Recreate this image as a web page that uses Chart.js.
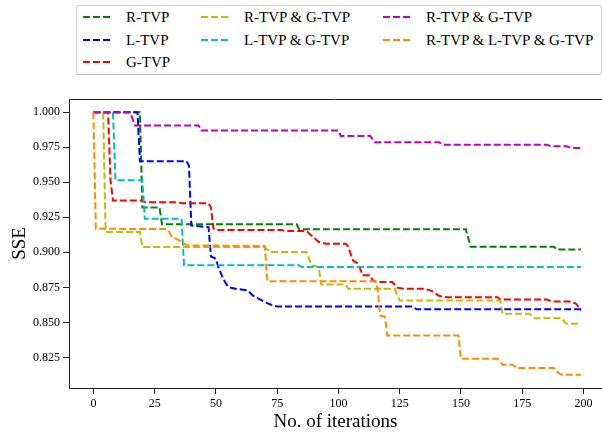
<!DOCTYPE html>
<html>
<head>
<meta charset="utf-8">
<script src="https://cdn.jsdelivr.net/npm/chart.js@4/dist/chart.umd.min.js"></script>
<style>
  html, body { margin: 0; padding: 0; background: #fff; }
  #wrap { position: relative; width: 602px; height: 433px; }
  #chart { position: absolute; left: 0; top: 0; }
  #legend {
    position: absolute; left: 76px; top: 5px; width: 524px; height: 68px;
    border: 1px solid #d0d0d0; border-bottom-color: #b8b8b8; border-radius: 3px; background: #fff;
    font-family: "Liberation Serif", "Times New Roman", Times, serif; font-size: 15px; color: #000;
  }
  .item { position: absolute; height: 18px; line-height: 18px; white-space: nowrap; }
  .item svg { position: absolute; left: 0; top: 7px; }
  .item span { position: absolute; left: 43px; top: 0; }
</style>
</head>
<body>
<div id="wrap">
  <canvas id="chart" width="602" height="433"></canvas>
  <div id="legend"></div>
</div>
<script>
// tick labels
var xTicks = [0, 25, 50, 75, 100, 125, 150, 175, 200];
var yTicks = ["0.825", "0.850", "0.875", "0.900", "0.925", "0.950", "0.975", "1.000"];

// R-TVP
var rTvpIter = [0, 19, 20, 27, 28, 83, 84, 152, 154, 188, 189, 199];
var rTvpSse = [1.0, 1.0, 0.932, 0.932, 0.92, 0.92, 0.9165, 0.9165, 0.904, 0.904, 0.902, 0.902];

// L-TVP
var lTvpIter = [0, 18, 19, 38, 39, 40, 47, 48, 50, 51, 53, 55, 58, 63, 65, 68, 72, 75, 130, 132, 199];
var lTvpSse = [1.0, 1.0, 0.965, 0.965, 0.962, 0.919, 0.918, 0.897, 0.8955, 0.8895, 0.881, 0.8752, 0.874, 0.8729, 0.8693, 0.8664, 0.8629, 0.8614, 0.8614, 0.8593, 0.8593];

// G-TVP
var gTvpIter = [0, 6, 7, 8, 20, 21, 35, 36, 47, 48, 49, 50, 77, 78, 87, 89, 92, 95, 103, 104, 106, 108, 110, 113, 114, 116, 122, 124, 127, 135, 138, 141, 144, 165, 166, 185, 187, 195, 197, 199];
var gTvpSse = [1.0, 1.0, 0.951, 0.937, 0.937, 0.9357, 0.9357, 0.935, 0.935, 0.932, 0.917, 0.916, 0.916, 0.9152, 0.9152, 0.912, 0.9074, 0.9062, 0.9062, 0.904, 0.894, 0.892, 0.8836, 0.8836, 0.88, 0.8788, 0.8788, 0.8748, 0.874, 0.874, 0.8725, 0.869, 0.868, 0.868, 0.8664, 0.8664, 0.865, 0.865, 0.8633, 0.8586];

// R-TVP & G-TVP (yellow)
var rgIter = [0, 4, 5, 19, 20, 70, 72, 87, 89, 92, 93, 103, 104, 123, 125, 166, 167, 178, 180, 191, 193, 199];
var rgSse = [1.0, 1.0, 0.9145, 0.9145, 0.9038, 0.9038, 0.9002, 0.9002, 0.8907, 0.8895, 0.8771, 0.8771, 0.874, 0.874, 0.8657, 0.8657, 0.8562, 0.8562, 0.853, 0.853, 0.849, 0.849];

// L-TVP & G-TVP
var lgIter = [0, 8, 9, 20, 21, 36, 37, 84, 85, 199];
var lgSse = [1.0, 1.0, 0.9514, 0.9514, 0.924, 0.924, 0.8907, 0.8907, 0.8895, 0.8895];

// R-TVP & G-TVP (magenta)
var rg2Iter = [0, 15, 17, 43, 44, 100, 101, 113, 115, 141, 143, 185, 187, 193, 195, 199];
var rg2Sse = [1.0, 1.0, 0.9905, 0.9905, 0.987, 0.987, 0.983, 0.983, 0.9785, 0.9785, 0.9768, 0.9768, 0.9757, 0.9757, 0.9745, 0.9745];

// R-TVP & L-TVP & G-TVP
var rlgIter = [0, 1, 30, 31, 32, 35, 37, 38, 70, 71, 115, 116, 117, 119, 120, 149, 150, 165, 167, 171, 173, 188, 189, 191, 199];
var rlgSse = [1.0, 0.9168, 0.9166, 0.9145, 0.911, 0.9086, 0.9062, 0.905, 0.9045, 0.8793, 0.8793, 0.8745, 0.855, 0.854, 0.8407, 0.8407, 0.824, 0.824, 0.8198, 0.8198, 0.8174, 0.8174, 0.815, 0.8126, 0.8126];

var seriesLabels = ["R-TVP", "L-TVP", "G-TVP", "R-TVP & G-TVP", "L-TVP & G-TVP", "R-TVP & G-TVP", "R-TVP & L-TVP & G-TVP"];
var seriesColors = ["#008000", "#0000ff", "#ff0000", "#bfbf00", "#00bfbf", "#bf00bf", "#ff8c00"];

var sseChart = {
  init: function() {
    this.createLegend();
    this.createChart();
  },

  points: function(iter, sse) {
    return iter.map(function(x, i) {
      return { x: x, y: sse[i] };
    });
  },

  createLegend: function() {
    // 3 columns filled 3 / 2 / 2 like the matplotlib legend
    var colOf = [0, 0, 0, 1, 1, 2, 2];
    var rowOf = [0, 1, 2, 0, 1, 0, 1];
    var cols = [6, 124, 306];
    var rows = [2, 25, 47];
    var html = "";
    seriesLabels.forEach(function(label, i) {
      html +=
        '<div class="item" style="left:' + cols[colOf[i]] + 'px;top:' + rows[rowOf[i]] + 'px">' +
        '<svg width="30" height="4"><line x1="0" y1="2" x2="28" y2="2" stroke="' + seriesColors[i] +
        '" stroke-width="2" stroke-dasharray="7 3"/></svg>' +
        "<span>" + label + "</span></div>";
    });
    document.getElementById("legend").innerHTML = html;
  },

  createChart: function() {
    var sets = [
      [rTvpIter, rTvpSse],
      [lTvpIter, lTvpSse],
      [gTvpIter, gTvpSse],
      [rgIter, rgSse],
      [lgIter, lgSse],
      [rg2Iter, rg2Sse],
      [rlgIter, rlgSse]
    ];
    var datasets = sets.map(function(s, i) {
      return {
        label: seriesLabels[i],
        data: sseChart.points(s[0], s[1]),
        borderColor: seriesColors[i],
        borderWidth: 2,
        borderDash: [7, 3],
        pointRadius: 0,
        fill: false,
        tension: 0,
        order: sets.length - i // later series on top
      };
    });

    var frame = {
      id: "frame",
      afterDraw: function(chart) {
        var a = chart.chartArea;
        var c = chart.ctx;
        c.save();
        c.strokeStyle = "#222";
        c.lineWidth = 1;
        c.beginPath();
        c.moveTo(a.left, a.top + 0.5);
        c.lineTo(a.right, a.top + 0.5);
        c.stroke();
        c.restore();
      }
    };

    Chart.defaults.font.family = "'Liberation Serif', 'Times New Roman', Times, serif";
    Chart.defaults.color = "#000";

    var ctx = document.getElementById("chart");
    var myChart = new Chart(ctx, {
      type: "line",
      data: { datasets: datasets },
      plugins: [frame],
      options: {
        responsive: false,
        animation: false,
        devicePixelRatio: 1,
        layout: { padding: { top: 99, left: 0, right: 0, bottom: 0 } },
        plugins: {
          legend: { display: false },
          tooltip: { enabled: false }
        },
        scales: {
          x: {
            type: "linear",
            min: -9.95,
            max: 207.6,
            afterFit: function(scale) {
              scale.height = 45;
            },
            afterBuildTicks: function(scale) {
              scale.ticks = xTicks.map(function(v) {
                return { value: v };
              });
            },
            ticks: {
              font: { size: 12 },
              padding: 3,
              maxRotation: 0,
              callback: function(v) {
                return String(v);
              }
            },
            grid: { drawOnChartArea: false, tickLength: 6, tickColor: "#222" },
            border: { color: "#222", width: 1 },
            title: {
              display: true,
              text: "No. of iterations",
              font: { size: 19 },
              padding: { top: 0, bottom: 0 }
            }
          },
          y: {
            type: "linear",
            min: 0.8032,
            max: 1.0094,
            afterFit: function(scale) {
              scale.width = 69;
            },
            afterBuildTicks: function(scale) {
              scale.ticks = yTicks.map(function(v) {
                return { value: parseFloat(v) };
              });
            },
            ticks: {
              font: { size: 12 },
              padding: 3,
              callback: function(v) {
                return v.toFixed(3);
              }
            },
            grid: { drawOnChartArea: false, tickLength: 6, tickColor: "#222" },
            border: { color: "#222", width: 1 },
            title: {
              display: true,
              text: "SSE",
              font: { size: 19 },
              padding: { top: 9, bottom: 0 }
            }
          }
        }
      }
    });
  }
};

sseChart.init();
</script>
</body>
</html>
